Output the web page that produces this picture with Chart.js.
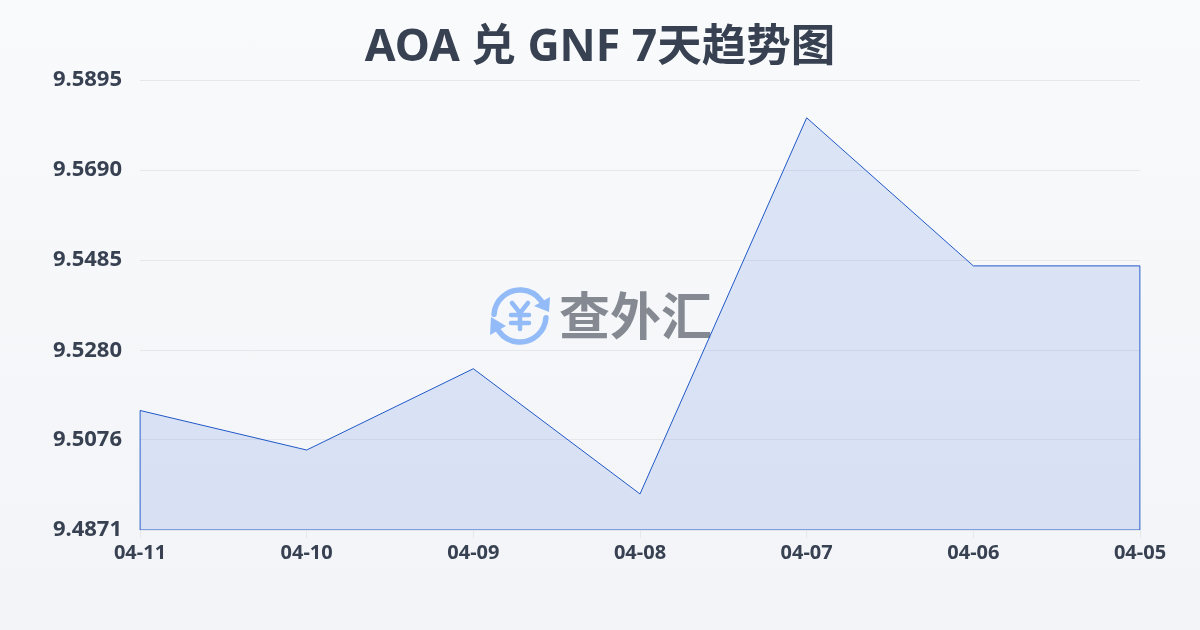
<!DOCTYPE html>
<html><head><meta charset="utf-8">
<style>html,body{margin:0;padding:0;width:1200px;height:630px;overflow:hidden;background:linear-gradient(180deg,#f9fafc 0%,#f3f4f7 100%)}canvas{display:block}</style>
<script src="https://cdn.jsdelivr.net/npm/chart.js@4"></script>
</head><body><canvas id="c" width="1200" height="630"></canvas>
<script>
const titleText = 'AOA 兑 GNF 7天趋势图';
const categories = ['04-11','04-10','04-09','04-08','04-07','04-06','04-05'];
const rates = [9.5143,9.5053,9.5238,9.4953,9.5809,9.5472,9.5472];
const yTicks = [9.4871,9.5076,9.5280,9.5485,9.5690,9.5895];
const watermarkText = '查外汇';
const FONT = '"Noto Sans","Noto Sans CJK SC",sans-serif';
const INK = '#374151';
const LINE = '#2058c8';
const yMin = yTicks[0], yMax = yTicks[yTicks.length-1];
const first = categories[0], last = categories[categories.length-1];
const outline = [{x:last,y:rates[rates.length-1]},{x:last,y:yMin},{x:first,y:yMin},{x:first,y:rates[0]}];

const watermark = {
  id:'watermark',
  beforeDatasetsDraw(ch){
    const c = ch.ctx; c.save();
    const cx=520, cy=316, r=26;
    c.strokeStyle='#93bbf8'; c.fillStyle='#93bbf8'; c.lineWidth=5.5; c.lineCap='round';
    c.beginPath(); c.arc(cx,cy,r,Math.PI*1.02,Math.PI*1.8); c.stroke();
    c.beginPath(); c.arc(cx,cy,r,Math.PI*0.02,Math.PI*0.8); c.stroke();
    c.beginPath(); c.moveTo(550,297); c.lineTo(549,312); c.lineTo(534,306); c.closePath(); c.fill();
    c.beginPath(); c.moveTo(490,335); c.lineTo(491,317); c.lineTo(506,326); c.closePath(); c.fill();
    c.lineWidth=4.5;
    c.beginPath();
    c.moveTo(512,303);c.lineTo(520,313);c.lineTo(528,303);
    c.moveTo(511,315);c.lineTo(529,315);
    c.moveTo(511,323);c.lineTo(529,323);
    c.moveTo(520,313);c.lineTo(520,329);
    c.stroke();
    c.fillStyle='#858a92'; c.font='bold 51px "Noto Sans CJK SC",sans-serif'; c.textAlign='left'; c.textBaseline='middle';
    c.fillText(watermarkText,559,316);
    c.restore();
  }
};

new Chart(document.getElementById('c'),{
  type:'line',
  data:{labels:categories,datasets:[
    {data:rates,borderColor:LINE,borderWidth:1,backgroundColor:'rgba(58,113,222,0.15)',fill:'start',tension:0,pointRadius:0},
    {data:outline,borderColor:LINE,borderWidth:1.2,fill:false,tension:0,pointRadius:0}
  ]},
  plugins:[watermark],
  options:{
    responsive:false,animation:false,
    layout:{padding:0},
    plugins:{
      legend:{display:false},tooltip:{enabled:false},
      title:{display:true,text:titleText,color:INK,font:{family:FONT,size:44.5,weight:'bold',lineHeight:1.2},padding:{top:21.3,bottom:5.3}}
    },
    scales:{
      x:{
        type:'category',offset:false,
        afterFit(s){s.height=100;},
        grid:{drawOnChartArea:false,drawTicks:true,tickLength:8,color:'#e5e7eb'},
        border:{display:false},
        ticks:{color:INK,font:{family:FONT,size:20,weight:'bold'},maxRotation:0,autoSkip:false,padding:3}
      },
      y:{
        min:yMin,max:yMax,
        afterFit(s){s.width=140;},
        afterBuildTicks(s){s.ticks=yTicks.map(v=>({value:v}));},
        grid:{color:'#e5e7eb',lineWidth:1,drawTicks:false},
        border:{display:false},
        ticks:{color:INK,font:{family:FONT,size:22,weight:'bold'},padding:18,labelOffset:0,callback:v=>v.toFixed(4)}
      },
      yRightGap:{
        position:'right',display:true,
        afterFit(s){s.width=60;},
        grid:{display:false},border:{display:false},ticks:{display:false}
      }
    }
  }
});
</script></body></html>
